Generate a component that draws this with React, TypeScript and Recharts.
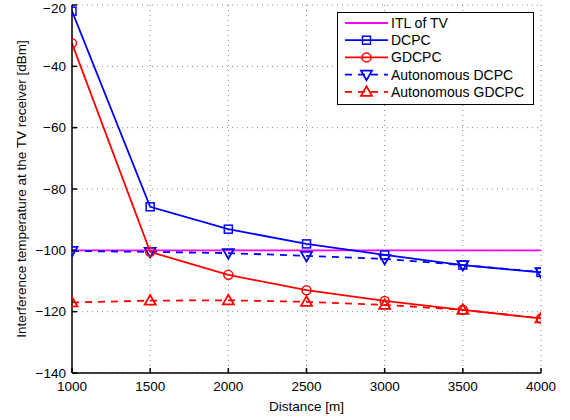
import React from "react";
import { LineChart, Line, XAxis, YAxis, CartesianGrid } from "recharts";

const distances = [1000, 1500, 2000, 2500, 3000, 3500, 4000];
const itlTV = [-100, -100, -100, -100, -100, -100, -100];
const dcpc = [-22, -85.8, -93.1, -97.9, -101.5, -104.8, -107.2];
const gdcpc = [-32.5, -100.5, -108, -113, -116.5, -119.4, -122.2];
const autoDcpc = [-100.2, -100.5, -100.9, -101.8, -102.8, -104.8, -107.1];
const autoGdcpc = [-117, -116.4, -116.3, -116.8, -117.8, -119.4, -122.2];
const xTicks = [1000, 1500, 2000, 2500, 3000, 3500, 4000];
const yTicks = [-140, -120, -100, -80, -60, -40, -20];
const seriesNames = ["ITL of TV", "DCPC", "GDCPC", "Autonomous DCPC", "Autonomous GDCPC"];

const data = distances.map((d, i) => ({
  d,
  itl: itlTV[i],
  dcpc: dcpc[i],
  gdcpc: gdcpc[i],
  autoDcpc: autoDcpc[i],
  autoGdcpc: autoGdcpc[i],
}));

const FONT = "'Liberation Sans', Arial, Helvetica, sans-serif";
const BLUE = "#0000ff";
const RED = "#ff0000";
const MAGENTA = "#ff00ff";

type Kind = "none" | "square" | "circle" | "down" | "up";

function marker(kind: Kind, cx: number, cy: number, color: string, key?: string | number) {
  if (kind === "square") {
    return <rect key={key} x={cx - 4} y={cy - 4} width={8} height={8} fill="none" stroke={color} strokeWidth={1.5} />;
  }
  if (kind === "circle") {
    return <circle key={key} cx={cx} cy={cy} r={4.5} fill="none" stroke={color} strokeWidth={1.5} />;
  }
  if (kind === "down") {
    return (
      <path key={key} d={`M${cx - 5.5},${cy - 4} L${cx + 5.5},${cy - 4} L${cx},${cy + 5.5} Z`} fill="none" stroke={color} strokeWidth={1.8} />
    );
  }
  if (kind === "up") {
    return (
      <path key={key} d={`M${cx - 5.5},${cy + 4} L${cx + 5.5},${cy + 4} L${cx},${cy - 5.5} Z`} fill="none" stroke={color} strokeWidth={1.8} />
    );
  }
  return <g key={key} />;
}

const dotFor = (kind: Kind, color: string) => (props: any) =>
  marker(kind, props.cx, props.cy, color, props.index);

const legendItems: { name: string; color: string; dash?: string; kind: Kind }[] = [
  { name: seriesNames[0], color: MAGENTA, kind: "none" },
  { name: seriesNames[1], color: BLUE, kind: "square" },
  { name: seriesNames[2], color: RED, kind: "circle" },
  { name: seriesNames[3], color: BLUE, dash: "7 6", kind: "down" },
  { name: seriesNames[4], color: RED, dash: "7 6", kind: "up" },
];

const LegendBox = () => (
  <svg width={197} height={93} style={{ display: "block" }}>
    <rect x={0.5} y={0.5} width={196} height={92} fill="#fff" stroke="#000" strokeWidth={1} />
    {legendItems.map((it, i) => {
      const y = 11 + i * 17.2;
      return (
        <g key={it.name}>
          <line x1={8} x2={51} y1={y} y2={y} stroke={it.color} strokeWidth={1.8} strokeDasharray={it.dash} />
          {marker(it.kind, 29.5, y, it.color)}
          <text x={54} y={y} dy="0.36em" fontSize={14} fontFamily={FONT} fill="#000">
            {it.name}
          </text>
        </g>
      );
    })}
  </svg>
);

const fmt = (v: number) => String(v).replace("-", "\u2212");

export default function App() {
  return (
    <div style={{ position: "absolute", left: 0, top: 0, width: 570, height: 420, background: "#fff" }}>
      <LineChart width={570} height={420} data={data} margin={{ top: 5, right: 29, bottom: 0, left: 8 }}>
        <CartesianGrid stroke="#888" strokeDasharray="1 4" strokeWidth={1} />
        <XAxis
          dataKey="d"
          type="number"
          domain={[1000, 4000]}
          ticks={xTicks}
          allowDataOverflow
          stroke="#000"
          strokeWidth={1.5}
          height={47}
          tickSize={-5}
          tickMargin={13}
          tick={{ fill: "#000", fontSize: 13.5, fontFamily: FONT }}
          label={{ value: "Distance [m]", position: "insideBottom", offset: 9, fill: "#000", fontSize: 13.5, fontFamily: FONT }}
        />
        <YAxis
          type="number"
          domain={[-140, -20]}
          ticks={yTicks}
          allowDataOverflow
          stroke="#000"
          strokeWidth={1.5}
          width={64}
          tickSize={-5}
          tickMargin={11}
          tickFormatter={fmt}
          tick={{ fill: "#000", fontSize: 13.5, fontFamily: FONT }}
          label={{
            value: "Interference temperature at the TV receiver [dBm]",
            angle: -90,
            position: "insideLeft",
            offset: 13,
            fill: "#000",
            fontSize: 13.5,
            fontFamily: FONT,
            style: { textAnchor: "middle" },
          }}
        />
        <XAxis xAxisId="top" orientation="top" dataKey="d" type="number" domain={[1000, 4000]} ticks={xTicks} stroke="#000" strokeWidth={1.5} tickSize={-5} tick={false} height={0} />
        <YAxis yAxisId="right" orientation="right" type="number" domain={[-140, -20]} ticks={yTicks} stroke="#000" strokeWidth={1.5} tickSize={-5} tick={false} width={0} />
        <Line dataKey="itl" stroke={MAGENTA} strokeWidth={1.8} dot={false} isAnimationActive={false} />
        <Line dataKey="autoGdcpc" stroke={RED} strokeWidth={1.8} strokeDasharray="7 6" dot={dotFor("up", RED)} isAnimationActive={false} />
        <Line dataKey="autoDcpc" stroke={BLUE} strokeWidth={1.8} strokeDasharray="7 6" dot={dotFor("down", BLUE)} isAnimationActive={false} />
        <Line dataKey="gdcpc" stroke={RED} strokeWidth={1.8} dot={dotFor("circle", RED)} isAnimationActive={false} />
        <Line dataKey="dcpc" stroke={BLUE} strokeWidth={1.8} dot={dotFor("square", BLUE)} isAnimationActive={false} />
      </LineChart>
      <div style={{ position: "absolute", left: 337, top: 12 }}>
        <LegendBox />
      </div>
    </div>
  );
}
